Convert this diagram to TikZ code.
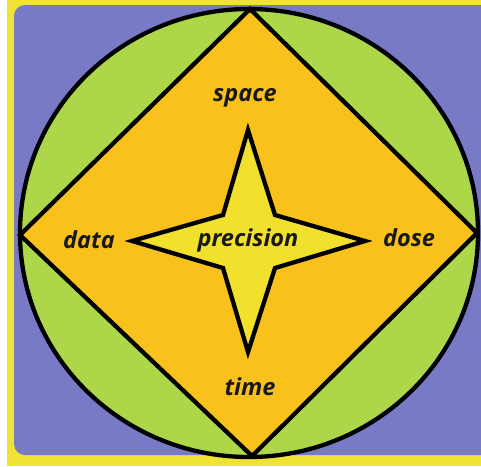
\documentclass[tikz,border=0pt]{standalone}
\usepackage{fontspec}
\setmainfont{Open Sans}
\definecolor{bgblue}{RGB}{121,122,198}
\definecolor{frameyellow}{RGB}{241,227,52}
\definecolor{leafgreen}{RGB}{173,215,72}
\definecolor{diaorange}{RGB}{249,193,28}
\definecolor{staryellow}{RGB}{241,224,44}
\tikzset{
  outline/.style={draw=black,line width=4.3pt,line join=miter},
  lbl/.style={font=\fontsize{23.5}{28}\selectfont\bfseries\itshape,text=black!90,inner sep=0pt}
}
\begin{document}
\begin{tikzpicture}[x=1pt,y=-1pt]
\useasboundingbox (0,0) rectangle (481,466);
\fill[white] (0,0) rectangle (481,466);
\fill[frameyellow] (7,0) rectangle (481,466);
\begin{scope}
\clip (0,0) rectangle (481,466);
\fill[bgblue,rounded corners=11pt] (14,5) rectangle (492,455);
\end{scope}
\draw[outline,fill=leafgreen] (249,233) ellipse [x radius=229, y radius=224];
\draw[outline,fill=diaorange] (250,9) -- (477,233) -- (252,456) -- (20,235) -- cycle;
\draw[outline,fill=staryellow] (248,130) -- (275,215) -- (365,241) -- (275,268) -- (248,352) -- (223,268) -- (132,241) -- (223,215) -- cycle;
\node[lbl] (precision) at (248,240) {precision};
\node[lbl] (space) at (245,98) {space};
\node[lbl] (data) at (89,240) {data};
\node[lbl] (dose) at (409,238) {dose};
\node[lbl] (time) at (250,387) {time};
\end{tikzpicture}
\end{document}
